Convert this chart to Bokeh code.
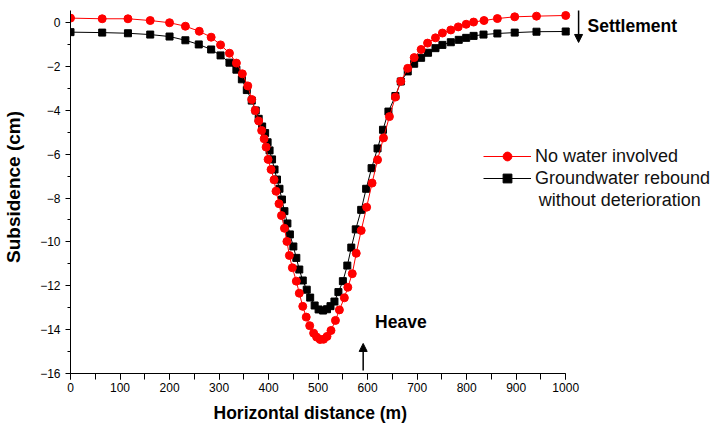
from bokeh.plotting import figure
from bokeh.models import Range1d, Legend, LegendItem, Arrow, NormalHead, Label, FixedTicker, Title
from bokeh.embed import file_html
from bokeh.resources import INLINE

# Horizontal distance (m) and subsidence (cm)
x_nowater = [0, 64, 116, 161, 200, 232, 260, 284, 303, 321, 335, 347, 358, 366, 373, 380,
             386, 391, 395, 399, 405, 411, 415, 421, 426, 432, 437, 442, 448, 456, 462, 469,
             476, 483, 491, 497, 504, 511, 518, 526, 535, 543, 553, 560, 569, 577, 587, 598,
             609, 620, 632, 644, 656, 667, 681, 694, 708, 721, 737, 751, 768, 783, 799, 814,
             835, 862, 897, 941, 1000]
y_nowater = [0.20, 0.17, 0.17, 0.09, -0.01, -0.17, -0.40, -0.67, -1.02, -1.40, -1.85, -2.34,
             -2.89, -3.51, -4.01, -4.49, -4.92, -5.30, -5.68, -6.24, -6.70, -7.17, -7.69, -8.26,
             -8.80, -9.38, -9.98, -10.62, -11.18, -11.79, -12.34, -12.94, -13.43, -13.82, -14.16,
             -14.34, -14.45, -14.44, -14.31, -14.04, -13.58, -13.10, -12.55, -12.07, -11.45,
             -10.52, -9.48, -8.42, -7.32, -6.26, -5.26, -4.29, -3.40, -2.68, -2.09, -1.60, -1.23,
             -0.94, -0.70, -0.48, -0.34, -0.20, -0.08, 0.02, 0.09, 0.18, 0.26, 0.29, 0.32]

x_rebound = [0, 64, 116, 161, 200, 232, 259, 284, 303, 321, 335, 346, 356, 366, 374, 380,
             387, 393, 398, 402, 407, 412, 417, 422, 427, 432, 438, 443, 450, 456, 462, 469,
             477, 484, 493, 501, 510, 518, 525, 533, 541, 550, 559, 567, 576, 587, 597, 608,
             620, 631, 642, 656, 667, 681, 694, 708, 722, 737, 751, 768, 784, 799, 814, 834,
             862, 897, 941, 1000]
y_rebound = [-0.44, -0.46, -0.49, -0.55, -0.64, -0.81, -1.00, -1.23, -1.50, -1.83, -2.15,
             -2.59, -3.08, -3.56, -4.01, -4.39, -4.74, -5.04, -5.46, -5.83, -6.24, -6.70, -7.16,
             -7.58, -8.07, -8.60, -9.16, -9.66, -10.21, -10.73, -11.26, -11.76, -12.18, -12.54,
             -12.90, -13.08, -13.13, -13.07, -12.93, -12.72, -12.29, -11.79, -11.08, -10.26,
             -9.43, -8.54, -7.58, -6.64, -5.74, -4.89, -4.06, -3.35, -2.69, -2.23, -1.88, -1.61,
             -1.38, -1.17, -1.02, -0.90, -0.79, -0.70, -0.61, -0.55, -0.50, -0.46, -0.42, -0.41]

x_ticks = [0, 100, 200, 300, 400, 500, 600, 700, 800, 900, 1000]
y_ticks = [0, -2, -4, -6, -8, -10, -12, -14, -16]

label_nowater = "No water involved"
label_rebound = "Groundwater rebound"
label_rebound_2 = "without deterioration"

FONT = "Liberation Sans"

p = figure(width=712, height=432, output_backend="svg", toolbar_location=None,
           x_range=Range1d(0, 1296.4), y_range=Range1d(-16, 1.003),
           min_border_left=69, min_border_right=0, min_border_top=0, min_border_bottom=59)
p.outline_line_color = None
p.grid.visible = False
p.background_fill_color = "white"

p.xaxis.ticker = FixedTicker(ticks=x_ticks, minor_ticks=list(range(0, 1001, 50)))
p.yaxis.ticker = FixedTicker(ticks=y_ticks, minor_ticks=list(range(-16, 1, 1)))
p.xaxis.bounds = (0, 1000)
p.yaxis.bounds = (-16, 0.55)
for ax in (p.xaxis, p.yaxis):
    ax.axis_line_color = "black"
    ax.major_tick_line_color = "black"
    ax.minor_tick_line_color = "black"
    ax.major_tick_in = 0
    ax.minor_tick_in = 0
    ax.major_label_text_font = FONT
    ax.major_label_text_font_size = "12px"
    ax.major_label_text_color = "black"
    ax.axis_label_text_font = FONT
    ax.axis_label_text_font_style = "bold"
    ax.axis_label_text_color = "black"
p.yaxis.axis_label_text_font_size = "19px"
p.xaxis.major_tick_out = 6
p.xaxis.minor_tick_out = 6
p.yaxis.major_tick_out = 5
p.yaxis.minor_tick_out = 3
p.xaxis.major_label_standoff = 3
p.yaxis.major_label_standoff = 5
p.yaxis.axis_label = "Subsidence (cm)"
p.yaxis.axis_label_standoff = 13

# x-axis title, aligned under the drawn part of the axis (0..1000 m)
p.add_layout(Title(text="Horizontal distance (m)", align="left", offset=143, standoff=12,
                   vertical_align="bottom",
                   text_font=FONT, text_font_style="bold", text_font_size="17.5px",
                   text_color="black"), "below")

l2 = p.line(x_rebound, y_rebound, line_color="black", line_width=1)
s2 = p.scatter(x_rebound, y_rebound, marker="square", size=7, fill_color="black", line_color="black")
l1 = p.line(x_nowater, y_nowater, line_color="#ff0000", line_width=1)
s1 = p.scatter(x_nowater, y_nowater, marker="circle", size=8, fill_color="#ff0000", line_color="#ff0000")

legend = Legend(items=[LegendItem(label=label_nowater, renderers=[l1, s1]),
                       LegendItem(label=label_rebound, renderers=[l2, s2])],
                location=(413, 184), padding=0, margin=0, spacing=0,
                glyph_width=48, glyph_height=22, label_height=22, label_standoff=4,
                border_line_color=None, background_fill_alpha=0,
                label_text_font=FONT, label_text_font_size="18px", label_text_color="#111111")
p.add_layout(legend)
p.add_layout(Label(x=945.6, y=-8.11, text=label_rebound_2, text_font=FONT,
                   text_font_size="18px", text_baseline="middle", text_color="#111111"))

p.add_layout(Arrow(end=NormalHead(size=8, fill_color="black", line_color="black"),
                   x_start=1026, y_start=0.55, x_end=1026, y_end=-0.91,
                   line_color="black", line_width=1.5))
p.add_layout(Arrow(end=NormalHead(size=8, fill_color="black", line_color="black"),
                   x_start=591, y_start=-15.86, x_end=591, y_end=-14.63,
                   line_color="black", line_width=1.5))
p.add_layout(Label(x=1044, y=-0.14, text="Settlement", text_font=FONT, text_font_style="bold",
                   text_font_size="17.5px", text_baseline="middle", text_color="black"))
p.add_layout(Label(x=615, y=-13.67, text="Heave", text_font=FONT, text_font_style="bold",
                   text_font_size="17.5px", text_baseline="middle", text_color="black"))

open("out.html", "w").write(file_html(p, INLINE))
